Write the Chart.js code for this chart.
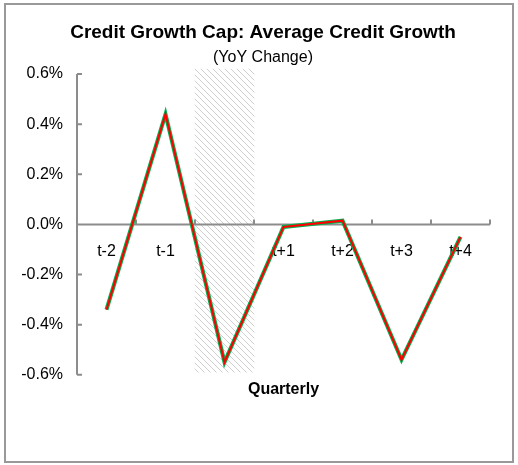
<!DOCTYPE html>
<html>
<head>
<meta charset="utf-8">
<script src="https://cdn.jsdelivr.net/npm/chart.js@4.4.1/dist/chart.umd.min.js"></script>
<style>
  body { margin: 0; background: #fff; }
  #wrap { position: relative; width: 518px; height: 465px; }
  #frame { position: absolute; left: 4px; top: 3px; width: 510px; height: 460px;
           box-sizing: border-box; border: 2px solid #999; pointer-events: none; }
</style>
</head>
<body>
<div id="wrap">
  <canvas id="canvas" width="518" height="465"></canvas>
  <div id="frame"></div>
</div>
<script>
// quarters around the cap (t0 left blank, shaded)
const quarters = ['t-2', 't-1', '', 't+1', 't+2', 't+3', 't+4'];
// average credit growth, YoY change in %
const creditGrowth = [-0.34, 0.44, -0.55, -0.01, 0.015, -0.54, -0.05];
// shaded band at t0 (floating bar, low/high in %)
const capBand = [null, null, [-0.59, 0.62], null, null, null, null];
const yTicks = [-0.6, -0.4, -0.2, 0, 0.2, 0.4, 0.6];

const FONT = "'Liberation Sans', Arial, sans-serif";
const AXIS_COLOR = '#8c8c8c';

function makeHatch() {
  const c = document.createElement('canvas');
  c.width = 6; c.height = 6;
  const g = c.getContext('2d');
  g.strokeStyle = '#cfcfcf';
  g.lineWidth = 1;
  g.beginPath();
  g.moveTo(-1, -1); g.lineTo(7, 7);
  g.moveTo(-1, 5); g.lineTo(1, 7);
  g.moveTo(5, -1); g.lineTo(7, 1);
  g.stroke();
  return g.createPattern(c, 'repeat');
}

// axis lines with inward ticks, drawn after the shaded band and under the lines
const axesPlugin = {
  id: 'axes',
  afterLayout(chart) {
    // titles sit a bit right of the canvas centre in the original
    chart.boxes.forEach(function(b) {
      if (!b.axis && b.options && b.options.text !== undefined) b.left += 18;
    });
  },
  afterDatasetDraw(chart, args) {
    if (args.index !== 0) return;
    const ctx = chart.ctx;
    const area = chart.chartArea;
    const x = chart.scales.x;
    const y = chart.scales.y;
    const y0 = y.getPixelForValue(0);
    ctx.save();
    ctx.strokeStyle = AXIS_COLOR;
    ctx.lineWidth = 2;
    ctx.beginPath();
    // y axis
    ctx.moveTo(area.left, area.top);
    ctx.lineTo(area.left, area.bottom);
    yTicks.forEach(function(v) {
      const py = y.getPixelForValue(v);
      ctx.moveTo(area.left, py);
      ctx.lineTo(area.left + 5, py);
    });
    // x axis at zero
    ctx.moveTo(area.left, y0);
    ctx.lineTo(area.right, y0);
    const half = (x.getPixelForValue(1) - x.getPixelForValue(0)) / 2;
    for (let i = 0; i < quarters.length; i++) {
      const px = x.getPixelForValue(i) + half;
      ctx.moveTo(px, y0);
      ctx.lineTo(px, y0 - 5);
    }
    ctx.stroke();
    ctx.restore();
  }
};

const canvas = document.getElementById('canvas');
const myChart = new Chart(canvas, {
  data: {
    labels: quarters,
    datasets: [{
      type: 'bar',
      data: capBand,
      backgroundColor: makeHatch(),
      borderWidth: 0,
      barPercentage: 1,
      categoryPercentage: 1,
      clip: false,
      order: 3
    }, {
      type: 'line',
      data: creditGrowth,
      borderColor: '#00b050',
      borderWidth: 4,
      pointRadius: 0,
      tension: 0,
      order: 2
    }, {
      type: 'line',
      data: creditGrowth,
      borderColor: '#ff0000',
      borderWidth: 2,
      pointRadius: 0,
      tension: 0,
      order: 1
    }]
  },
  options: {
    responsive: false,
    animation: false,
    layout: { padding: { left: 18, right: 28, top: 0, bottom: 66 } },
    plugins: {
      legend: { display: false },
      tooltip: { enabled: false },
      title: {
        display: true,
        text: 'Credit Growth Cap: Average Credit Growth',
        color: '#000',
        font: { family: FONT, size: 19, weight: 'bold' },
        padding: { top: 21, bottom: 4 }
      },
      subtitle: {
        display: true,
        text: '(YoY Change)',
        color: '#000',
        font: { family: FONT, size: 16 },
        padding: { top: 0, bottom: 7 }
      }
    },
    scales: {
      x: {
        type: 'category',
        position: { y: 0 },
        offset: true,
        grid: { display: false, drawTicks: false },
        border: { display: false },
        ticks: {
          color: '#000',
          font: { family: FONT, size: 16 },
          padding: 18,
          maxRotation: 0,
          autoSkip: false
        }
      },
      x2: {
        type: 'category',
        position: 'bottom',
        offset: true,
        grid: { display: false, drawTicks: false },
        border: { display: false },
        ticks: { display: false },
        title: {
          display: true,
          text: 'Quarterly',
          color: '#000',
          font: { family: FONT, size: 16, weight: 'bold' },
          padding: { top: 5, bottom: 0 }
        }
      },
      y: {
        min: -0.6,
        max: 0.6,
        afterFit: function(scale) { scale.width = 59; },
        grid: { display: false, drawTicks: false },
        border: { display: false },
        afterBuildTicks: function(scale) {
          scale.ticks = yTicks.map(function(v) { return { value: v }; });
        },
        ticks: {
          color: '#000',
          font: { family: FONT, size: 16 },
          padding: 14,
          callback: function(value) {
            const v = Math.abs(value) < 1e-9 ? 0 : value;
            return v.toFixed(1) + '%';
          }
        }
      }
    }
  },
  plugins: [axesPlugin]
});
</script>
</body>
</html>
